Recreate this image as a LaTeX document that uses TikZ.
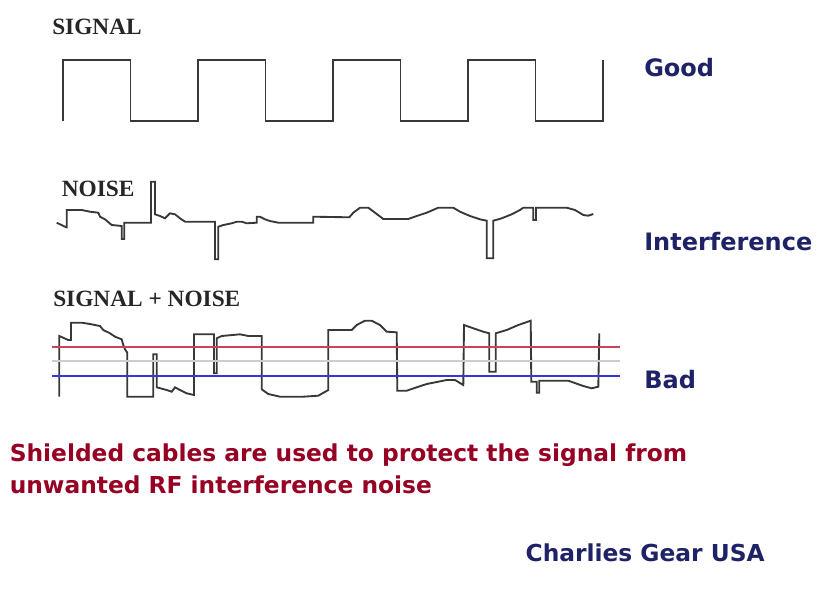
\documentclass[tikz,border=0pt]{standalone}
\usepackage{fontspec}
\usepackage{tikz}
\usetikzlibrary{calc}
\newfontfamily\scopefont{Liberation Serif}
\newfontfamily\tagfont{DejaVu Sans}
\definecolor{navytag}{RGB}{31,35,102}
\definecolor{crimsonmsg}{RGB}{150,0,35}
\definecolor{upperlvl}{RGB}{205,65,90}
\definecolor{lowerlvl}{RGB}{55,55,215}
\definecolor{midlvl}{RGB}{205,205,205}

\begin{document}
\begin{tikzpicture}[
x=0.75pt, y=-0.75pt,
wave/.style={
  draw=black!78,
  line width=1.4pt,
  line join=miter},
level/.style={
  line width=1.5pt},
scopelabel/.style={
  anchor=base west,
  inner sep=0pt,
  text=black!85,
  font=\scopefont\bfseries\fontsize{17.5}{20}\selectfont},
tag/.style={
  anchor=base west,
  inner sep=0pt,
  text=navytag,
  font=\tagfont\bfseries\fontsize{18}{20}\selectfont},
msg/.style={
  anchor=base west,
  inner sep=0pt,
  text=crimsonmsg,
  font=\tagfont\bfseries\fontsize{17.5}{20}\selectfont}
]
\useasboundingbox (0,0) rectangle (838,600);

% clean square wave
\draw[wave]
  (63,121) coordinate (S0) -- (63,60)
  \foreach \k in {0,...,3}{
    -- ++(67.5,0) -- ++(0,61) -- ++(67.5,0) -- ++(0,-61)}
  coordinate (S1);

% noise only
\draw[wave]
  (56.7,222.7) coordinate (N0) -- (65,226.7) -- (66.7,227.3) -- (66.7,210) --
  (81.7,210) -- (90,211.7) -- (98.3,212.7) -- (100,216.7) -- (105,219.3) --
  (111.7,225) -- (121.7,226) -- (121.7,239) -- (124.3,239) -- (124.3,222.7) --
  (151,222.7) -- (151,181.7) -- (155,181.7) -- (155,214.3) -- (160,216) --
  (165,218.3) -- (170,213.3) -- (175,214.3) -- (180,218.3) -- (185,221.7) --
  (215,221.7) -- (215,259.3) -- (218.3,259.3) -- (218.3,226.7) --
  (223.3,225) -- (231.7,223.3) -- (236.7,221.7) -- (241.7,221.7) --
  (246.7,223.3) -- (256.7,222.7) -- (256.7,216.7) -- (260,216.7) --
  (265,219.3) -- (270,221) -- (278.3,222.7) -- (313.3,222.7) --
  (313.3,216.7) -- (349.3,217.3) -- (353.3,212.7) -- (360,207.7) --
  (368.3,207.7) -- (375,212.7) -- (383.3,219) -- (408.3,219) -- (416.7,216) --
  (426.7,212.7) -- (438.3,207.7) -- (453.3,207.7) -- (460,211.7) --
  (470,216) -- (480,219.3) -- (486.7,220.7) -- (486.7,258.3) --
  (493.3,258.3) -- (493.3,220.7) -- (501.7,218.3) -- (511.7,214.3) --
  (520,210) -- (523.3,207.7) -- (533.3,207.7) -- (533.3,220) -- (536,220) --
  (536,207.7) -- (566.7,207.7) -- (575,210) -- (583.3,215) -- (588.3,215.7) --
  (593.3,214) coordinate (N1);

% signal with noise added
\draw[wave]
  (59.3,396.7) coordinate (M0) -- (59.3,336) -- (68.3,340) -- (71,340) --
  (71,322.7) -- (81.7,322.7) -- (90,324) -- (100,326) -- (103.3,330) --
  (110,333.3) -- (115,336.7) -- (121.7,339.3) -- (123.3,345) -- (125,349.3) --
  (127.3,352.7) -- (127.3,396.7) -- (153.3,396.7) -- (153.3,354.3) --
  (156.7,354.3) -- (156.7,387.3) -- (166.7,390) -- (171.7,391.7) --
  (175,387.3) -- (180,390) -- (186.7,393.3) -- (194,395) -- (194,334.3) --
  (214,334.3) -- (214,373.3) -- (216.7,373.3) -- (216.7,338.3) --
  (221.7,336) -- (240,334.3) -- (248.3,336) -- (261.7,336) -- (261.7,389.3) --
  (268.3,394) -- (280,396.7) -- (303.3,396.7) -- (318.3,395.7) --
  (328.3,390) -- (328.3,330) -- (351.7,330) -- (356.7,325) -- (365,320.7) --
  (371.7,320.7) -- (380,325) -- (386.7,331.7) -- (396.7,332.3) --
  (397.3,390.7) -- (406.7,390.7) -- (416.7,387.3) -- (426.7,384) --
  (438.3,381.7) -- (446.7,380) -- (455,380) -- (463.3,385) -- (464,325) --
  (473.3,328.3) -- (483.3,331.7) -- (489.3,333.3) -- (489.3,371.7) --
  (495.7,371.7) -- (495.7,333.3) -- (506.7,330) -- (518.3,325) --
  (530.7,320.7) -- (531.3,381.7) -- (536.7,381.7) -- (536.7,392.7) --
  (539.3,392.7) -- (539.3,380.7) -- (568.3,380.7) -- (583.3,386) --
  (591.7,388.3) -- (598.3,386.7) -- (599.3,333.3) coordinate (M1);

% threshold levels
\draw[level, upperlvl] (52,346.7) coordinate (U0) -- (620,346.7) coordinate (U1);
\draw[level, midlvl] (52,361) coordinate (C0) -- (620,361) coordinate (C1);
\draw[level, lowerlvl] (52,376) coordinate (L0) -- (620,376) coordinate (L1);

\node[scopelabel] (sig) at (52,34) {SIGNAL};
\node[scopelabel] (noi) at (61.5,196) {NOISE};
\node[scopelabel] (mix) at (53,306.7) {SIGNAL + NOISE};

\node[tag] (good) at (644,76) {Good};
\node[tag] (intf) at (644,250) {Interference};
\node[tag] (bad) at (644,388) {Bad};

\node[msg] (msgA) at (9.5,461.7) {Shielded cables are used to protect the signal from};
\node[msg] (msgB) at (9.5,493.3) {unwanted RF interference noise};
\node[tag, font=\tagfont\bfseries\fontsize{17.5}{20}\selectfont] (gear) at (525.4,561.7) {Charlies Gear USA};
\end{tikzpicture}
\end{document}
